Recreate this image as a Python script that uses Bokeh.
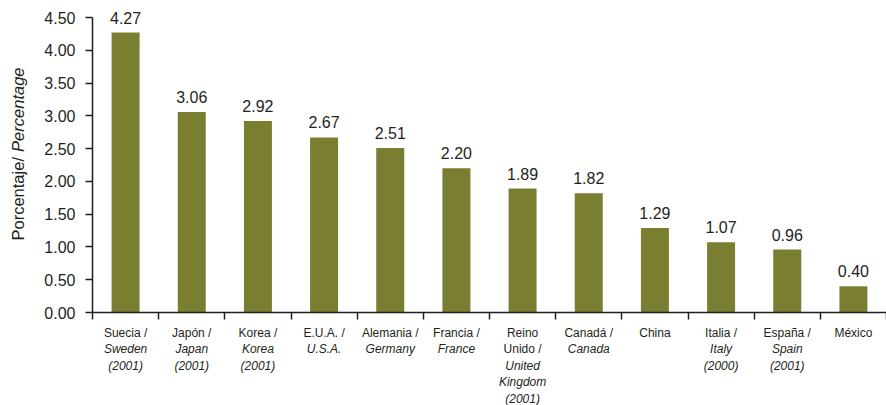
import math
from bokeh.plotting import figure
from bokeh.models import (ColumnDataSource, LabelSet, Label, FixedTicker, Range1d,
                          LinearAxis, NumeralTickFormatter)
from bokeh.core.properties import value
from bokeh.embed import file_html
from bokeh.resources import INLINE

# ---- data ----
spanish = ["Suecia /", "Japón /", "Korea /", "E.U.A. /", "Alemania /", "Francia /",
           "Reino\nUnido /", "Canadá /", "China", "Italia /", "España /", "México"]
english = ["Sweden", "Japan", "Korea", "U.S.A.", "Germany", "France",
           "United\nKingdom", "Canada", "", "Italy", "Spain", ""]
years = ["(2001)", "(2001)", "(2001)", "", "", "",
         "(2001)", "", "", "(2000)", "(2001)", ""]
values = [4.27, 3.06, 2.92, 2.67, 2.51, 2.20, 1.89, 1.82, 1.29, 1.07, 0.96, 0.40]
y_ticks = [0.0, 0.5, 1.0, 1.5, 2.0, 2.5, 3.0, 3.5, 4.0, 4.5]
y_max = 4.5

FONT = "Liberation Sans"
TXT = "#231f20"
BAR = "#797e31"

W, H = 886, 405
LEFT, TOP, BOTTOM = 92, 17, 312      # pixel positions of the axes in the page

n = len(values)
cw = (W - LEFT) / n                   # pixels per category
py = (BOTTOM - TOP) / y_max           # pixels per unit
x0 = -LEFT / cw
y0 = -(H - BOTTOM) / py
y1 = y_max + TOP / py

xs = [i + 0.5 for i in range(n)]
src = ColumnDataSource(dict(x=xs, value=values, label=["%.2f" % v for v in values]))

p = figure(width=W, height=H, output_backend="svg", toolbar_location=None,
           x_range=Range1d(x0, n), y_range=Range1d(y0, y1),
           x_axis_location=None, y_axis_location=None,
           min_border=0, min_border_left=0, min_border_right=0,
           min_border_top=0, min_border_bottom=0)
p.outline_line_color = None
p.grid.visible = False
p.background_fill_color = "white"
p.border_fill_color = "white"

p.vbar(x="x", top="value", width=0.423, source=src, fill_color=BAR, line_color=None)

# y axis
yax = LinearAxis(fixed_location=0, bounds=(0, y_max),
                 ticker=FixedTicker(ticks=y_ticks),
                 formatter=NumeralTickFormatter(format="0.00"))
yax.major_label_text_font = FONT
yax.major_label_text_font_size = "16px"
yax.major_label_text_color = TXT
yax.major_tick_out = 7
yax.major_tick_in = 0
yax.minor_tick_line_color = None
yax.major_label_standoff = 10

# x axis: only boundary ticks (minor), no labels
xax = LinearAxis(fixed_location=0, bounds=(0, n),
                 ticker=FixedTicker(ticks=[], minor_ticks=list(range(n + 1))))
xax.minor_tick_out = 7
xax.minor_tick_in = 0

for ax in (xax, yax):
    ax.axis_line_color = TXT
    ax.axis_line_width = 1.5
    ax.major_tick_line_width = 1.5
    ax.minor_tick_line_width = 1.5
yax.major_tick_line_color = TXT
xax.major_tick_line_color = None
xax.minor_tick_line_color = TXT
p.add_layout(yax, "left")
p.add_layout(xax, "below")

# value labels
p.add_layout(LabelSet(x="x", y="value", text="label", source=src, y_offset=9,
                      text_align="center", text_baseline="alphabetic",
                      text_font=value(FONT), text_font_size="16px", text_color=TXT))

# category labels (mixed upright / italic lines)
up = dict(x=[], y=[], t=[], off=[])
it = dict(x=[], y=[], t=[], off=[])
for i in range(n):
    lines = [(s, False) for s in spanish[i].split("\n")]
    if english[i]:
        lines += [(s, True) for s in english[i].split("\n")]
    if years[i]:
        lines.append((years[i], True))
    for k, (s, italic) in enumerate(lines):
        d = it if italic else up
        d["x"].append(xs[i]); d["y"].append(0); d["t"].append(s)
        d["off"].append(-(20 + 16.5 * k))
for d, style in ((up, "normal"), (it, "italic")):
    p.add_layout(LabelSet(x="x", y="y", text="t", y_offset="off",
                          source=ColumnDataSource(d),
                          text_align="center", text_baseline="middle",
                          text_font=value(FONT), text_font_size="12px",
                          text_font_style=style, text_color=TXT))

# y-axis title, mixed style
p.add_layout(Label(x=0, y=0, x_offset=-75, y_offset=72, text="Porcentaje/",
                   angle=math.pi / 2, text_align="left", text_baseline="middle",
                   text_font=FONT, text_font_size="16.5px", text_color=TXT))
p.add_layout(Label(x=0, y=0, x_offset=-75, y_offset=245, text="Percentage",
                   angle=math.pi / 2, text_align="right", text_baseline="middle",
                   text_font=FONT, text_font_size="16.5px", text_font_style="italic",
                   text_color=TXT))

open("out.html", "w").write(file_html(p, INLINE))
